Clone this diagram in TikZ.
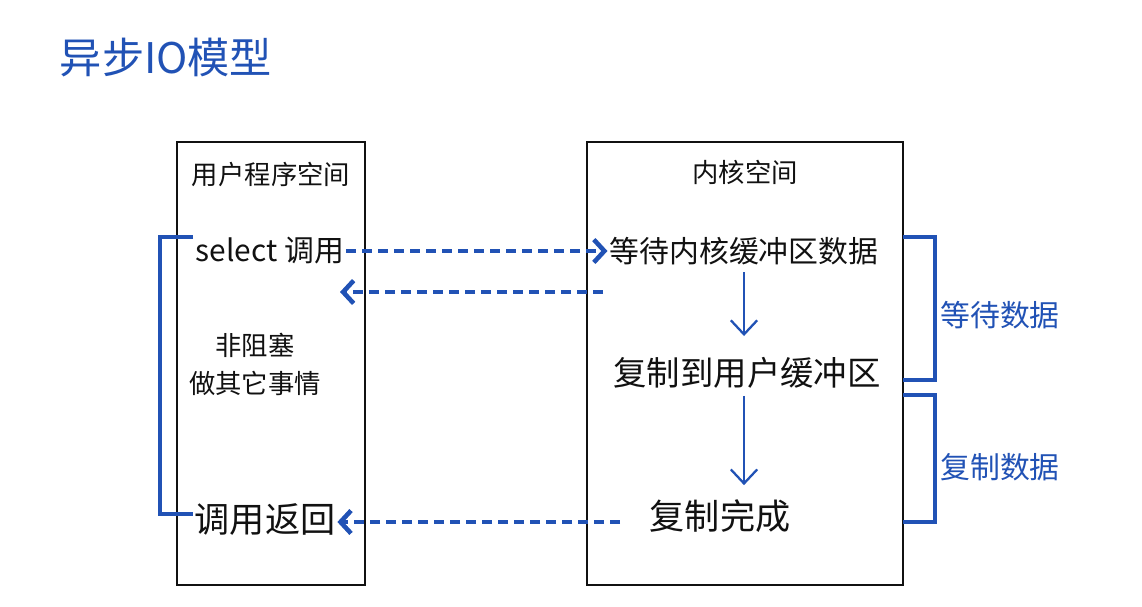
\documentclass[tikz,border=0pt]{standalone}
\usepackage{fontspec}
\newfontfamily\cjk{Noto Sans CJK SC}
\usepackage{xcolor}
\usepackage{tikz}
\usetikzlibrary{positioning, arrows.meta}
\definecolor{penblue}{HTML}{2152B5}
\definecolor{inkblack}{HTML}{111111}

\tikzset{
  panel/.style={draw=inkblack, line width=1.4pt, minimum height=8.86cm},
  handtext/.style={font=\cjk\fontsize{17}{20}\selectfont, text=inkblack, inner sep=1pt},
  bigtext/.style={font=\cjk\fontsize{20}{24}\selectfont, text=inkblack, inner sep=1pt},
  smalltext/.style={font=\cjk\fontsize{15}{18}\selectfont, text=inkblack, inner sep=1pt},
  bluetext/.style={font=\cjk\fontsize{17}{20}\selectfont, text=penblue, inner sep=1pt},
  callflow/.style={draw=penblue, line width=2.6pt, dash pattern=on 5.7pt off 3.4pt,
                   -{Straight Barb[length=6pt, width=13pt]}},
  stepline/.style={draw=penblue, line width=1.3pt,
                   -{Straight Barb[length=8pt, width=15pt]}},
  brace/.style={draw=penblue, line width=2.3pt},
}

\begin{document}
\begin{tikzpicture}[x=0.02cm, y=-0.02cm]
  \useasboundingbox (0,0) rectangle (1142,607);

  % title
  \node[bluetext, font=\cjk\fontsize{24}{28}\selectfont] (title) at (166,58) {异步IO模型};

  % the two spaces
  \node[panel, minimum width=3.76cm] (user) at (271,363.5) {};
  \node[panel, minimum width=6.32cm] (kernel) at (745,363.5) {};
  \node[smalltext] (usertitle) at (271,174) {用户程序空间};
  \node[smalltext] (kerneltitle) at (745,172) {内核空间};

  % user side
  \node[handtext] (call) at (270,251) {select 调用};
  \node[smalltext] (nonblock) at (255,345) {非阻塞};
  \node[smalltext] (other) at (255,383) {做其它事情};
  \node[bigtext] (ret) at (265,520) {调用返回};

  % kernel side
  \node[handtext] (wait) at (744,251) {等待内核缓冲区数据};
  \node[bigtext, font=\cjk\fontsize{19}{22}\selectfont] (copyto) at (747,373) {复制到用户缓冲区};
  \node[bigtext] (done) at (720,516) {复制完成};

  % phase labels
  \node[bluetext] (waitlbl) at (1000,315) {等待数据};
  \node[bluetext] (copylbl) at (1000,467) {复制数据};

  % calls between user and kernel
  \coordinate (notifyA) at (603,292);
  \coordinate (notifyB) at (340,292);
  \coordinate (doneA) at (620,522);
  \draw[callflow] (call.east) -- (wait.west);
  \draw[callflow] (notifyA) -- (notifyB);
  \draw[callflow] (doneA) -- (ret.east |- doneA);

  % kernel steps
  \draw[stepline, shorten <=3pt, shorten >=11pt] (wait.south) -- (wait.south |- copyto.north);
  \draw[stepline, shorten <=3pt, shorten >=7pt] (wait.south |- copyto.south) -- (wait.south |- done.north);

  % brackets
  \coordinate (loopTop) at (193,237);
  \coordinate (loopBot) at (193,514);
  \draw[brace] (loopTop) -- ++(-33,0) |- (loopBot);

  \coordinate (waitTop) at (903,237);
  \coordinate (waitBot) at (903,380);
  \coordinate (copyTop) at (903,395);
  \coordinate (copyBot) at (903,522);
  \draw[brace] (waitTop) -- ++(32,0) |- (waitBot);
  \draw[brace] (copyTop) -- ++(32,0) |- (copyBot);
\end{tikzpicture}
\end{document}
